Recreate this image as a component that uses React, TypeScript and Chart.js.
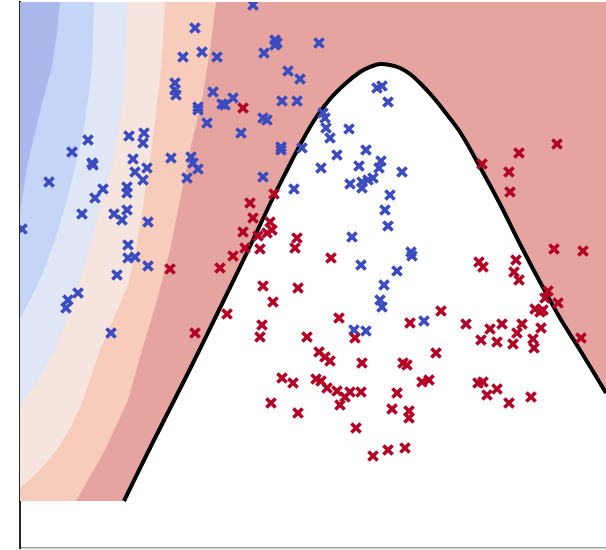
import React, { useEffect, useRef } from 'react';
import { Chart, registerables } from 'chart.js';

Chart.register(...registerables);

// Axis extent (data units)
const X_MIN = 0;
const X_MAX = 58.6;
const Y_MIN = 0;
const Y_MAX = 54.6;
const GRID_BOTTOM = 4.7; // lower edge of the filled (contour) domain

// Decision boundary (bell-shaped curve)
const curveX = [10.4, 13.3, 16.7, 20.0, 23.3, 25.0, 26.5, 28.0, 29.5, 31.0, 32.5, 34.0, 35.0, 36.0, 37.0, 38.0, 39.0, 40.0, 41.3, 42.5, 44.0, 46.0, 48.0, 50.0, 52.0, 54.0, 56.0, 58.0, 58.6];
const curveY = [4.7, 10.6, 17.3, 24.0, 30.8, 34.4, 37.4, 40.3, 42.9, 44.9, 46.4, 47.6, 48.1, 48.4, 48.3, 48.0, 47.4, 46.5, 45.1, 43.6, 41.6, 38.1, 34.4, 30.4, 26.6, 23.0, 19.8, 16.5, 15.5];

// Contour level boundaries (from bottom to top); region left of each is filled
const b5X = [5.6, 8.5, 10.8, 12.2, 13.7, 15.0, 16.0, 17.0, 18.2, 19.0, 19.6];
const b5Y = [4.7, 9.8, 14.8, 19.8, 24.8, 29.8, 34.8, 39.8, 44.8, 49.8, 54.6];
const b4X = [0, 1.8, 3.7, 5.2, 6.3, 8.0, 9.3, 10.8, 11.6, 12.4, 13.0, 13.5, 14.0, 14.3, 14.5];
const b4Y = [6.0, 7.6, 9.8, 12.3, 14.8, 19.8, 22.8, 26.3, 29.8, 34.8, 38.8, 42.8, 46.8, 50.8, 54.6];
const b3X = [0, 1.8, 3.5, 4.8, 6.0, 7.2, 8.2, 9.2, 9.8, 10.3, 10.5, 10.8];
const b3Y = [14.3, 16.8, 19.8, 23.3, 26.8, 30.8, 34.8, 38.1, 41.5, 44.8, 48.1, 54.6];
const b2X = [0, 1.0, 2.2, 3.5, 4.7, 5.5, 6.3, 6.8, 7.2, 7.3, 7.4];
const b2Y = [23.0, 24.8, 27.3, 30.8, 34.8, 38.1, 41.5, 44.8, 48.1, 51.5, 54.6];
const b1X = [0, 0.2, 0.7, 1.5, 2.3, 3.2, 3.7, 4.0];
const b1Y = [33.6, 34.8, 38.1, 41.5, 44.8, 48.1, 51.5, 54.6];

// Band colours (left-most / coolest first)
const bandColors = ['#aab8ec', '#c5d5f8', '#dfe6f5', '#f5e5de', '#f8ccbb', '#e6a4a0'];

// Class 1 (red) samples
const redX = [22.3, 25.4, 23.0, 23.3, 25.0, 22.3, 23.8, 24.7, 25.2, 22.5, 24.0, 21.3, 20.0, 15.0, 20.7, 17.5,
  53.7, 49.9, 46.2, 48.9, 49.0, 53.4, 56.3, 56.1,
  27.7, 27.5, 31.1, 24.3, 27.8, 25.3, 24.2, 24.0, 28.7, 31.9, 33.5, 29.9, 30.5, 31.0, 34.2, 38.3, 38.7, 39.0, 41.6, 42.1,
  44.6, 45.9, 46.3, 49.6, 49.4, 49.9, 52.8, 52.5, 53.8, 51.5, 52.0, 52.3, 47.0, 48.2, 50.2, 49.7, 46.1, 47.7, 49.3, 51.3, 52.1, 51.4,
  26.2, 27.3, 25.1, 27.8, 29.6, 30.1, 30.7, 31.7, 32.5, 32.0, 33.0, 34.1, 37.7, 37.2, 38.9, 38.9, 40.2, 40.9, 33.6, 35.3, 36.8, 38.5,
  45.8, 46.3, 46.7, 47.7, 48.9, 51.1];
const redY = [44.0, 35.4, 34.5, 33.0, 32.6, 31.6, 31.2, 31.5, 31.8, 30.0, 29.9, 29.2, 28.0, 27.9, 23.4, 21.5,
  40.4, 39.5, 38.4, 37.6, 35.6, 29.9, 29.7, 21.0,
  31.0, 30.0, 29.0, 26.2, 26.0, 24.6, 22.3, 21.1, 21.1, 23.0, 21.0, 19.6, 19.1, 18.7, 18.5, 18.5, 18.3, 22.5, 19.5, 23.7,
  22.4, 28.6, 28.1, 28.8, 27.6, 26.8, 25.7, 25.0, 24.5, 23.9, 23.6, 23.8, 21.9, 22.4, 22.4, 21.5, 20.8, 20.6, 20.4, 20.9, 22.0, 20.0,
  17.0, 16.5, 14.5, 13.5, 16.9, 16.7, 16.0, 15.7, 15.1, 14.3, 15.6, 15.6, 15.5, 13.9, 13.7, 13.0, 16.6, 16.8, 12.0, 9.2, 9.8, 10.0,
  16.5, 16.6, 15.3, 15.9, 14.5, 15.1];

// Class 0 (blue) samples
const blueX = [23.3, 17.5, 25.5, 25.7, 25.5, 29.9, 24.4, 16.3, 18.2, 19.7, 26.8, 28.0, 15.5, 15.5, 15.6, 19.3, 17.8, 17.8, 20.2, 20.5,
  21.3, 26.2, 27.7, 18.7, 24.3, 24.7, 22.1, 6.8, 5.2, 7.2, 7.3, 2.9, 10.9, 12.4, 12.3, 11.3, 12.7, 11.5, 12.3, 15.1,
  17.1, 17.3, 17.8, 16.7, 8.3, 10.7, 10.7, 7.5, 10.2, 10.7, 6.2, 9.4, 12.8, 10.8, 10.8, 11.5, 12.8, 9.7, 0.2, 5.8,
  4.8, 4.6, 9.1, 26.1, 26.1, 28.2, 24.3, 27.4, 35.7, 36.2, 36.8, 30.3, 30.5, 30.6, 31.0, 32.9, 31.7, 34.6, 30.1, 33.9,
  36.1, 35.9, 38.2, 35.3, 34.8, 34.2, 33.0, 34.2, 37.0, 36.5, 36.8, 33.2, 34.1, 39.1, 39.2, 37.7, 36.4, 36.0, 36.2, 33.4,
  34.6, 40.4];
const blueY = [54.3, 52.0, 50.8, 50.5, 50.3, 50.5, 49.5, 49.1, 49.6, 49.1, 47.7, 46.9, 46.5, 45.8, 45.3, 45.6, 44.1, 43.8, 44.4, 44.3,
  45.0, 44.7, 44.7, 42.5, 43.0, 42.8, 41.5, 40.8, 39.6, 38.5, 38.3, 36.6, 41.2, 41.5, 40.5, 38.9, 38.0, 37.6, 36.8, 39.0,
  39.1, 38.5, 37.9, 37.0, 35.9, 36.1, 35.5, 35.0, 32.8, 33.8, 33.4, 33.4, 32.6, 30.3, 29.0, 29.1, 28.2, 27.3, 31.9, 25.5,
  24.8, 24.0, 21.5, 40.1, 39.8, 40.0, 37.1, 35.9, 46.0, 46.2, 44.6, 43.5, 43.0, 42.0, 41.0, 41.9, 39.3, 39.8, 38.0, 38.2,
  38.7, 38.0, 37.6, 37.0, 36.8, 36.6, 36.4, 36.0, 35.3, 33.8, 32.2, 31.1, 28.3, 29.6, 29.2, 27.7, 26.3, 24.8, 24.1, 21.8,
  21.7, 22.7];

const pts = (xs: number[], ys: number[]) => xs.map((x, i) => ({ x, y: ys[i] }));

// polygon covering everything to the left of a boundary
const leftOf = (xs: number[], ys: number[]) => {
  const p = pts(xs, ys);
  p.push({ x: X_MIN, y: Y_MAX });
  p.push({ x: X_MIN, y: ys[0] });
  return p;
};

const bandDataset = (data: { x: number; y: number }[], color: string) => ({
  type: 'line' as const,
  data,
  fill: 'shape' as any,
  backgroundColor: color,
  borderColor: 'transparent',
  borderWidth: 0,
  pointRadius: 0,
  pointHoverRadius: 0,
  tension: 0,
  clip: 0,
});

const markerDataset = (xs: number[], ys: number[], color: string) => ({
  type: 'scatter' as const,
  data: pts(xs, ys),
  pointStyle: 'crossRot',
  pointRadius: 6.5,
  pointHoverRadius: 6.5,
  borderWidth: 3.6,
  pointBorderWidth: 3.6,
  borderColor: color,
  backgroundColor: color,
  clip: 0,
});

export default function App() {
  const ref = useRef<HTMLCanvasElement>(null);

  useEffect(() => {
    if (!ref.current) return;
    const background = [
      { x: X_MIN, y: GRID_BOTTOM },
      { x: X_MAX, y: GRID_BOTTOM },
      { x: X_MAX, y: Y_MAX },
      { x: X_MIN, y: Y_MAX },
    ];
    const chart = new Chart(ref.current, {
      type: 'scatter',
      data: {
        datasets: [
          markerDataset(redX, redY, '#b40426'),
          markerDataset(blueX, blueY, '#3b4cc0'),
          {
            type: 'line',
            data: pts(curveX, curveY),
            fill: { value: GRID_BOTTOM } as any,
            backgroundColor: '#ffffff',
            borderColor: '#000000',
            borderWidth: 4,
            pointRadius: 0,
            pointHoverRadius: 0,
            tension: 0.4,
            clip: 0,
          } as any,
          bandDataset(leftOf(b1X, b1Y), bandColors[0]),
          bandDataset(leftOf(b2X, b2Y), bandColors[1]),
          bandDataset(leftOf(b3X, b3Y), bandColors[2]),
          bandDataset(leftOf(b4X, b4Y), bandColors[3]),
          bandDataset(leftOf(b5X, b5Y), bandColors[4]),
          bandDataset(background, bandColors[5]),
        ] as any,
      },
      options: {
        animation: false,
        responsive: false,
        devicePixelRatio: 1,
        events: [],
        layout: { autoPadding: false, padding: { left: 20, right: 0, top: 2, bottom: 2 } },
        plugins: { legend: { display: false }, tooltip: { enabled: false }, title: { display: false } },
        scales: {
          x: {
            type: 'linear',
            min: X_MIN,
            max: X_MAX,
            ticks: { display: false },
            grid: { display: false, drawTicks: false, tickLength: 0 },
            border: { display: true, color: '#9e9e9e', width: 1.5 },
            title: { display: false },
            z: 1,
          },
          y: {
            type: 'linear',
            min: Y_MIN,
            max: Y_MAX,
            ticks: { display: false },
            grid: { display: false, drawTicks: false, tickLength: 0 },
            border: { display: true, color: '#262626', width: 2 },
            title: { display: false },
            z: 1,
          },
        },
      } as any,
    });
    return () => chart.destroy();
  }, []);

  return (
    <div style={{ position: 'fixed', left: 0, top: 0, width: 606, height: 550, background: '#ffffff' }}>
      <canvas ref={ref} width={606} height={550} style={{ display: 'block', width: 606, height: 550 }} />
    </div>
  );
}
